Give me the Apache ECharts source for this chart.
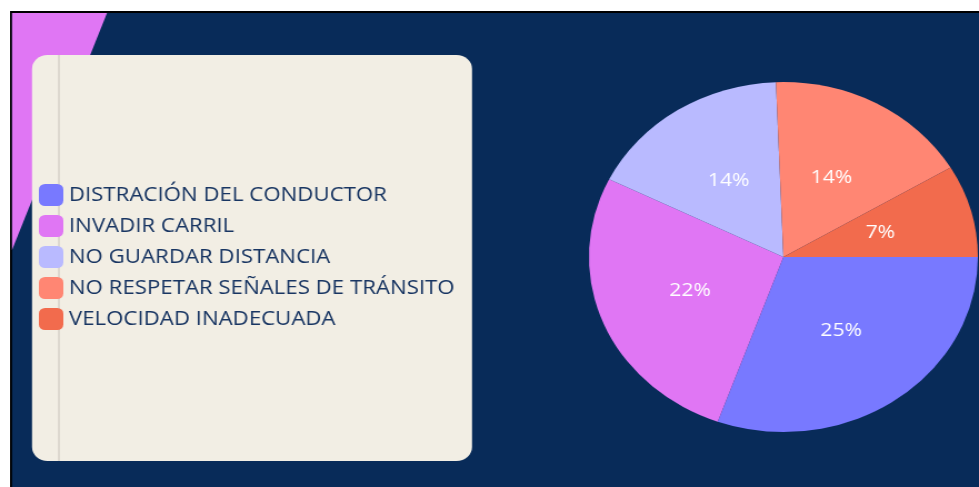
<!DOCTYPE html>
<html>
<head>
    <meta charset="utf-8">
    <title>Causas de accidentes</title>
    <style>
        body{
            margin: 0;
            padding: 0;
            background: #fff;
            overflow: hidden;
        }
        /* el gráfico original está estirado en horizontal */
        #container{
            position: absolute;
            left: 0;
            top: 0;
            width: 881px;
            height: 487px;
            transform: scaleX(1.1112);
            transform-origin: 0 0;
        }
    </style>
</head>
<body>
    <div id="container"></div>

    <script src="https://cdn.jsdelivr.net/npm/echarts@6/dist/echarts.min.js"></script>
    <script type="text/javascript">
    // datos
    var causas = ['DISTRACIÓN DEL CONDUCTOR', 'INVADIR CARRIL', 'NO GUARDAR DISTANCIA', 'NO RESPETAR SEÑALES DE TRÁNSITO', 'VELOCIDAD INADECUADA'];
    var valores = [25, 22, 14, 14, 7];
    var colores = ['#7879FF', '#E076F4', '#B9BAFF', '#FF8673', '#F26B4D'];

    var myChart = echarts.init(document.getElementById('container'));

    var pieData = [];
    for (var i = 0; i < causas.length; i++) {
        pieData.push({ name: causas[i], value: valores[i], itemStyle: { color: colores[i] } });
    }

    var option = {
        backgroundColor: 'transparent',
        animation: false,
        textStyle: { fontFamily: 'Open Sans' },
        graphic: [
            { type: 'rect', z: -10, shape: { x: 9, y: 11, width: 900, height: 500 }, style: { fill: '#000' } },
            { type: 'rect', z: -9, shape: { x: 10.8, y: 13, width: 900, height: 500 }, style: { fill: '#082B59' } },
            { type: 'polygon', z: -8, shape: { points: [[10.8, 13], [96.3, 13], [10.8, 250]] }, style: { fill: '#E076F4' } },
            { type: 'rect', z: -7, shape: { x: 28.8, y: 55, width: 396, height: 406, r: 14 }, style: { fill: '#F2EEE4' } },
            { type: 'line', z: -6, shape: { x1: 53, y1: 55, x2: 53, y2: 461 }, style: { stroke: '#D6D1C9', lineWidth: 1.5 } }
        ],
        legend: {
            orient: 'vertical',
            left: 35,
            top: 184,
            padding: 0,
            itemWidth: 22,
            itemHeight: 22,
            itemGap: 9,
            icon: 'roundRect',
            textStyle: { fontSize: 20, color: '#183562', fontFamily: 'Open Sans' },
            data: causas
        },
        series: [{
            type: 'pie',
            center: [705, 257],
            radius: 175,
            startAngle: 0,
            clockwise: true,
            itemStyle: { borderWidth: 0 },
            label: {
                position: 'inside',
                formatter: '{c}%',
                color: '#fff',
                fontSize: 19,
                fontFamily: 'Open Sans'
            },
            labelLine: { show: false },
            emphasis: { disabled: true },
            data: pieData
        }]
    };

    myChart.setOption(option);
    </script>
</body>
</html>
